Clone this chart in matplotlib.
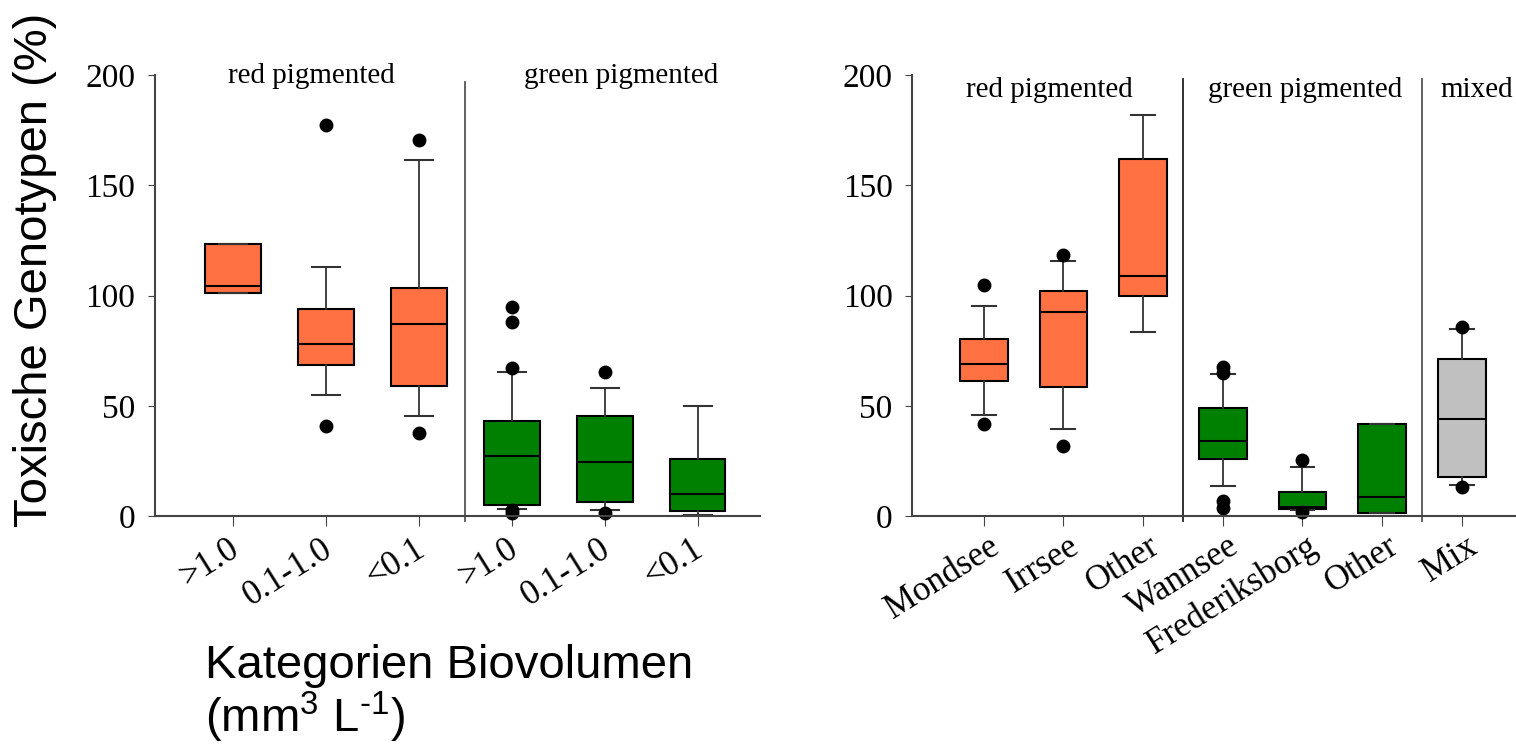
import matplotlib.pyplot as plt
import matplotlib.transforms as mtransforms

plt.rcParams['font.family'] = 'Liberation Serif'
plt.rcParams['mathtext.fontset'] = 'custom'
plt.rcParams['mathtext.rm'] = 'Liberation Sans'
plt.rcParams['mathtext.default'] = 'regular'

# left panel: biovolume categories (red pigmented | green pigmented)
left_labels = ['>1.0', '0.1-1.0', '<0.1', '>1.0', '0.1-1.0', '<0.1']
left_whislo = [101.0, 55.1, 45.4, 3.2, 2.7, 0.4]
left_q1 = [101.0, 68.4, 58.9, 5.1, 6.2, 2.1]
left_med = [104.1, 78.2, 86.9, 27.4, 24.7, 9.8]
left_q3 = [123.5, 93.8, 103.5, 43.1, 45.4, 26.0]
left_whishi = [123.5, 112.9, 161.3, 65.4, 58.1, 49.9]
left_fliers = [[], [177.5, 40.9], [170.7, 37.5],
               [94.7, 87.8, 67.2, 2.7, 1.5], [65.1, 1.2], []]
left_colors = ['#FF7043'] * 3 + ['#008000'] * 3

# right panel: lakes (red pigmented | green pigmented | mixed)
right_labels = ['Mondsee', 'Irrsee', 'Other', 'Wannsee', 'Frederiksborg', 'Other', 'Mix']
right_whislo = [45.9, 39.5, 83.5, 13.6, 2.6, 1.2, 13.9]
right_q1 = [61.3, 58.3, 99.7, 25.9, 3.0, 1.2, 17.7]
right_med = [68.8, 92.3, 108.7, 33.9, 4.2, 8.5, 44.0]
right_q3 = [80.5, 102.0, 161.9, 49.2, 11.0, 41.9, 71.0]
right_whishi = [95.3, 115.8, 182.0, 64.2, 22.4, 41.9, 84.8]
right_fliers = [[104.7, 41.6], [118.2, 31.8], [],
                [67.8, 64.8, 7.0, 3.5], [25.4, 1.7], [], [85.8, 13.0]]
right_colors = ['#FF7043'] * 3 + ['#008000'] * 3 + ['#C0C0C0']


def make_stats(lo, q1, med, q3, hi, fl):
    return [dict(whislo=a, q1=b, med=c, q3=d, whishi=e, fliers=f)
            for a, b, c, d, e, f in zip(lo, q1, med, q3, hi, fl)]


def draw_panel(ax, stats, colors, labels, pad, dx):
    pos = list(range(1, len(stats) + 1))
    res = ax.bxp(stats, positions=pos, widths=0.6, capwidths=0.3, patch_artist=True,
                 boxprops=dict(edgecolor='black', linewidth=1.5),
                 medianprops=dict(color='black', linewidth=1.5),
                 whiskerprops=dict(color='#333333', linewidth=1.3),
                 capprops=dict(color='#333333', linewidth=1.5),
                 flierprops=dict(marker='o', markerfacecolor='black',
                                 markeredgecolor='black', markersize=9))
    for patch, c in zip(res['boxes'], colors):
        patch.set_facecolor(c)
    for k in res:
        for art in res[k]:
            art.set_clip_on(False)
    ax.set_ylim(0, 200)
    ax.set_yticks([0, 50, 100, 150, 200])
    ax.set_xticks(pos)
    ax.set_xticklabels(labels, rotation=32, ha='right', va='center',
                       rotation_mode='anchor', fontsize=25)
    ax.tick_params(axis='y', labelsize=24, length=5, pad=9, color='#444444')
    ax.tick_params(axis='x', length=7, pad=pad, color='#444444')
    shift = mtransforms.ScaledTranslation(dx / 100, 0, ax.figure.dpi_scale_trans)
    for lab in ax.get_xticklabels():
        lab.set_transform(lab.get_transform() + shift)
    for s in ['top', 'right']:
        ax.spines[s].set_visible(False)
    for s in ['left', 'bottom']:
        ax.spines[s].set_color('#444444')
        ax.spines[s].set_linewidth(1.5)


fig = plt.figure(figsize=(15.16, 7.47), dpi=100)
ax1 = fig.add_axes([0.1022, 0.3092, 0.399, 0.5904])
ax2 = fig.add_axes([0.6016, 0.3092, 0.3984, 0.5904])

draw_panel(ax1, make_stats(left_whislo, left_q1, left_med, left_q3, left_whishi, left_fliers),
           left_colors, left_labels, pad=15, dx=3)
ax1.set_xlim(0.157, 6.67)
ax1.axvline(3.5, ymin=-0.012, ymax=0.985, color='#555555', lw=1.3, clip_on=False)
ax1.text(1.84, 199.5, 'red pigmented', ha='center', va='center', fontsize=21)
ax1.text(5.18, 199.5, 'green pigmented', ha='center', va='center', fontsize=21)

draw_panel(ax2, make_stats(right_whislo, right_q1, right_med, right_q3, right_whishi, right_fliers),
           right_colors, right_labels, pad=13, dx=13)
ax2.set_xlim(0.1, 7.68)
ax2.axvline(3.5, ymin=-0.012, ymax=0.99, color='#222222', lw=1.3, clip_on=False)
ax2.axvline(6.5, ymin=-0.012, ymax=0.99, color='#555555', lw=1.3, clip_on=False)
ax2.text(1.83, 193.4, 'red pigmented', ha='center', va='center', fontsize=21)
ax2.text(5.03, 193.4, 'green pigmented', ha='center', va='center', fontsize=21)
ax2.text(7.19, 193.4, 'mixed', ha='center', va='center', fontsize=21)

fig.text(0.0231, 0.6386, 'Toxische Genotypen (%)', rotation=90, ha='center', va='center',
         family='Liberation Sans', fontsize=34)
fig.text(0.1352, 0.138, 'Kategorien Biovolumen\n(mm$^3$ L$^{\\text{-}1}$)', ha='left', va='top',
         family='Liberation Sans', fontsize=34, linespacing=1.05)

fig.savefig('out.png', dpi=100)
